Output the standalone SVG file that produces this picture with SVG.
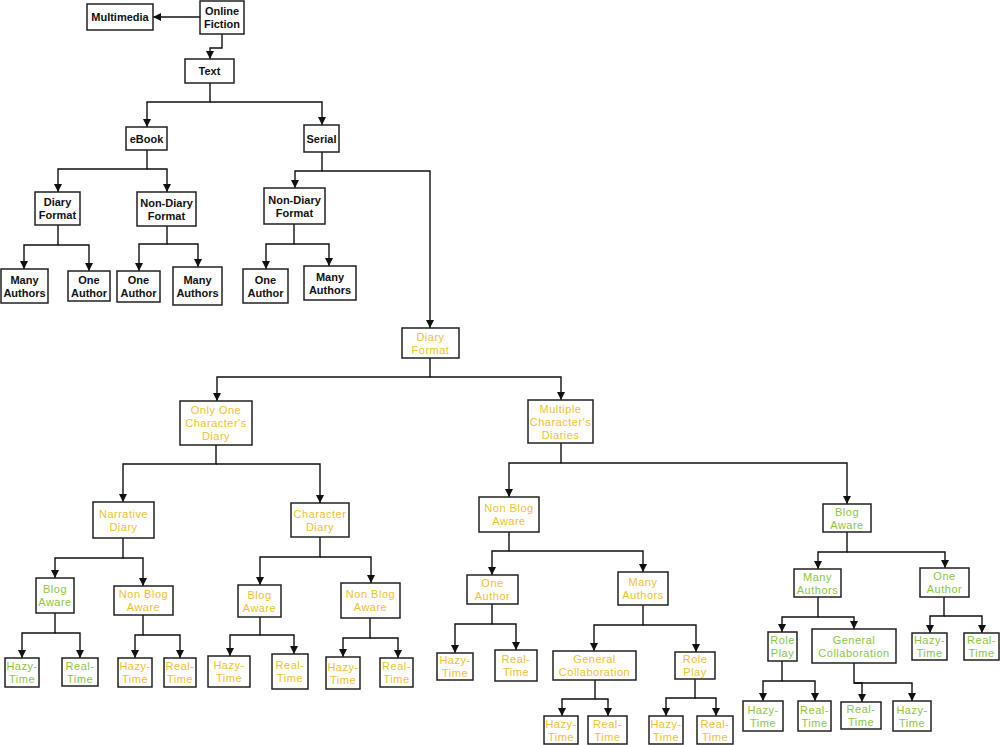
<svg xmlns="http://www.w3.org/2000/svg" width="1000" height="745" viewBox="0 0 1000 745">
<style>
.box{fill:#fff;stroke:#222;stroke-width:1.5}
.t{font-family:"Liberation Sans",Arial,sans-serif;font-size:11px;text-anchor:middle}
.k{fill:#111;font-weight:bold}
.y{fill:#f2c12e;letter-spacing:0.5px}
.g{fill:#8dc63f;letter-spacing:0.5px}
.c{fill:none;stroke:#111;stroke-width:1.4}
</style>
<defs>
<marker id="ah" viewBox="0 0 10 10" refX="10" refY="5" markerWidth="9" markerHeight="8" markerUnits="userSpaceOnUse" orient="auto">
<path d="M0,0 L10,5 L0,10 z" fill="#111"/>
</marker>
</defs>
<rect width="1000" height="745" fill="#fff"/>
<g id="connectors" class="c" marker-end="url(#ah)">
<path d="M200,17 H153" marker-end="url(#ah)"/>
<path d="M222,34 V48 H210 V59" marker-end="url(#ah)"/>
<path d="M210,83 V102 H147 V127" marker-end="url(#ah)"/>
<path d="M210,102 H322 V125" marker-end="url(#ah)"/>
<path d="M147,150 V169 H58 V192" marker-end="url(#ah)"/>
<path d="M147,169 H167 V192" marker-end="url(#ah)"/>
<path d="M58,225 V245 H24 V269" marker-end="url(#ah)"/>
<path d="M58,245 H89 V271" marker-end="url(#ah)"/>
<path d="M167,226 V244 H139 V271" marker-end="url(#ah)"/>
<path d="M167,244 H198 V267" marker-end="url(#ah)"/>
<path d="M322,152 V171 H295 V188" marker-end="url(#ah)"/>
<path d="M322,171 H430 V328" marker-end="url(#ah)"/>
<path d="M294,224 V244 H266 V269" marker-end="url(#ah)"/>
<path d="M294,244 H329 V266" marker-end="url(#ah)"/>
<path d="M430,358 V377 H217 V401" marker-end="url(#ah)"/>
<path d="M430,377 H561 V400" marker-end="url(#ah)"/>
<path d="M216,445 V464 H123 V502" marker-end="url(#ah)"/>
<path d="M216,464 H320 V503" marker-end="url(#ah)"/>
<path d="M561,443 V463 H509 V497" marker-end="url(#ah)"/>
<path d="M561,463 H847 V504" marker-end="url(#ah)"/>
<path d="M123,538 V558 H55 V578" marker-end="url(#ah)"/>
<path d="M123,558 H143 V586" marker-end="url(#ah)"/>
<path d="M55,613 V633 H22 V658" marker-end="url(#ah)"/>
<path d="M55,633 H80 V658" marker-end="url(#ah)"/>
<path d="M143,615 V635 H135 V658" marker-end="url(#ah)"/>
<path d="M143,635 H180 V658" marker-end="url(#ah)"/>
<path d="M320,537 V557 H260 V585" marker-end="url(#ah)"/>
<path d="M320,557 H371 V583" marker-end="url(#ah)"/>
<path d="M260,617 V635 H230 V656" marker-end="url(#ah)"/>
<path d="M260,635 H294 V654" marker-end="url(#ah)"/>
<path d="M370,618 V638 H343 V657" marker-end="url(#ah)"/>
<path d="M370,638 H398 V658" marker-end="url(#ah)"/>
<path d="M509,532 V551 H492 V575" marker-end="url(#ah)"/>
<path d="M509,551 H643 V572" marker-end="url(#ah)"/>
<path d="M492,604 V624 H455 V653" marker-end="url(#ah)"/>
<path d="M492,624 H516 V650" marker-end="url(#ah)"/>
<path d="M643,605 V625 H594 V651" marker-end="url(#ah)"/>
<path d="M643,625 H696 V652" marker-end="url(#ah)"/>
<path d="M595,680 V699 H562 V716" marker-end="url(#ah)"/>
<path d="M595,699 H608 V716" marker-end="url(#ah)"/>
<path d="M695,679 V698 H666 V716" marker-end="url(#ah)"/>
<path d="M695,698 H716 V716" marker-end="url(#ah)"/>
<path d="M847,532 V552 H818 V569" marker-end="url(#ah)"/>
<path d="M847,552 H945 V568" marker-end="url(#ah)"/>
<path d="M818,597 V617 H782 V632" marker-end="url(#ah)"/>
<path d="M818,617 H854 V629" marker-end="url(#ah)"/>
<path d="M944,597 V616 H930 V633" marker-end="url(#ah)"/>
<path d="M944,616 H982 V633" marker-end="url(#ah)"/>
<path d="M782,661 V681 H763 V701" marker-end="url(#ah)"/>
<path d="M782,681 H815 V701" marker-end="url(#ah)"/>
<path d="M854,663 V683 H862 V702" marker-end="url(#ah)"/>
<path d="M854,683 H912 V701" marker-end="url(#ah)"/>
</g>

<g id="n-online"><rect class="box" x="200" y="1" width="44" height="33"/><text class="t k" x="222" y="15">Online<tspan x="222" dy="13">Fiction</tspan></text></g>
<g id="n-multimedia"><rect class="box" x="87" y="4" width="66" height="26"/><text class="t k" x="120" y="21">Multimedia</text></g>
<g id="n-text"><rect class="box" x="185" y="59" width="49" height="24"/><text class="t k" x="209.5" y="75">Text</text></g>
<g id="n-ebook"><rect class="box" x="126" y="127" width="41" height="23"/><text class="t k" x="146.5" y="142.5">eBook</text></g>
<g id="n-serial"><rect class="box" x="304" y="125" width="35" height="27"/><text class="t k" x="321.5" y="142.5">Serial</text></g>
<g id="n-eb-diary"><rect class="box" x="35" y="192" width="45" height="33"/><text class="t k" x="57.5" y="206">Diary<tspan x="57.5" dy="13">Format</tspan></text></g>
<g id="n-eb-nondiary"><rect class="box" x="137" y="192" width="59" height="34"/><text class="t k" x="166.5" y="206.5">Non-Diary<tspan x="166.5" dy="13">Format</tspan></text></g>
<g id="n-eb-d-many"><rect class="box" x="1" y="269" width="47" height="34"/><text class="t k" x="24.5" y="283.5">Many<tspan x="24.5" dy="13">Authors</tspan></text></g>
<g id="n-eb-d-one"><rect class="box" x="68" y="271" width="42" height="30"/><text class="t k" x="89" y="283.5">One<tspan x="89" dy="13">Author</tspan></text></g>
<g id="n-eb-n-one"><rect class="box" x="117" y="271" width="43" height="31"/><text class="t k" x="138.5" y="284">One<tspan x="138.5" dy="13">Author</tspan></text></g>
<g id="n-eb-n-many"><rect class="box" x="173" y="267" width="49" height="38"/><text class="t k" x="197.5" y="283.5">Many<tspan x="197.5" dy="13">Authors</tspan></text></g>
<g id="n-se-nondiary"><rect class="box" x="264" y="188" width="61" height="36"/><text class="t k" x="294.5" y="203.5">Non-Diary<tspan x="294.5" dy="13">Format</tspan></text></g>
<g id="n-se-n-one"><rect class="box" x="243" y="269" width="45" height="34"/><text class="t k" x="265.5" y="283.5">One<tspan x="265.5" dy="13">Author</tspan></text></g>
<g id="n-se-n-many"><rect class="box" x="304" y="266" width="52" height="34"/><text class="t k" x="330" y="280.5">Many<tspan x="330" dy="13">Authors</tspan></text></g>
<g id="n-se-diary"><rect class="box" x="402" y="328" width="57" height="30"/><text class="t y" x="430.5" y="340.5">Diary<tspan x="430.5" dy="13">Format</tspan></text></g>
<g id="n-onlyone"><rect class="box" x="180" y="401" width="72" height="44"/><text class="t y" x="216" y="414">Only One<tspan x="216" dy="13">Character's</tspan><tspan x="216" dy="13">Diary</tspan></text></g>
<g id="n-multiple"><rect class="box" x="528" y="400" width="65" height="43"/><text class="t y" x="560.5" y="412.5">Multiple<tspan x="560.5" dy="13">Character's</tspan><tspan x="560.5" dy="13">Diaries</tspan></text></g>
<g id="n-narrative"><rect class="box" x="93" y="502" width="61" height="36"/><text class="t y" x="123.5" y="517.5">Narrative<tspan x="123.5" dy="13">Diary</tspan></text></g>
<g id="n-chardiary"><rect class="box" x="291" y="503" width="58" height="34"/><text class="t y" x="320" y="517.5">Character<tspan x="320" dy="13">Diary</tspan></text></g>
<g id="n-na-blog"><rect class="box" x="36" y="578" width="38" height="35"/><text class="t g" x="55" y="593">Blog<tspan x="55" dy="13">Aware</tspan></text></g>
<g id="n-na-nonblog"><rect class="box" x="114" y="586" width="59" height="29"/><text class="t y" x="143.5" y="598">Non Blog<tspan x="143.5" dy="13">Aware</tspan></text></g>
<g id="n-na-b-hazy"><rect class="box" x="5" y="658" width="34" height="29"/><text class="t g" x="22" y="670">Hazy-<tspan x="22" dy="13">Time</tspan></text></g>
<g id="n-na-b-real"><rect class="box" x="62" y="658" width="36" height="28"/><text class="t g" x="80" y="669.5">Real-<tspan x="80" dy="13">Time</tspan></text></g>
<g id="n-na-n-hazy"><rect class="box" x="118" y="658" width="34" height="29"/><text class="t y" x="135" y="670">Hazy-<tspan x="135" dy="13">Time</tspan></text></g>
<g id="n-na-n-real"><rect class="box" x="164" y="658" width="32" height="29"/><text class="t y" x="180" y="670">Real-<tspan x="180" dy="13">Time</tspan></text></g>
<g id="n-cd-blog"><rect class="box" x="238" y="585" width="43" height="32"/><text class="t y" x="259.5" y="598.5">Blog<tspan x="259.5" dy="13">Aware</tspan></text></g>
<g id="n-cd-nonblog"><rect class="box" x="341" y="583" width="59" height="35"/><text class="t y" x="370.5" y="598">Non Blog<tspan x="370.5" dy="13">Aware</tspan></text></g>
<g id="n-cd-b-hazy"><rect class="box" x="208" y="656" width="42" height="31"/><text class="t y" x="229" y="669">Hazy-<tspan x="229" dy="13">Time</tspan></text></g>
<g id="n-cd-b-real"><rect class="box" x="272" y="654" width="36" height="35"/><text class="t y" x="290" y="669">Real-<tspan x="290" dy="13">Time</tspan></text></g>
<g id="n-cd-n-hazy"><rect class="box" x="326" y="657" width="34" height="32"/><text class="t y" x="343" y="670.5">Hazy-<tspan x="343" dy="13">Time</tspan></text></g>
<g id="n-cd-n-real"><rect class="box" x="380" y="658" width="33" height="29"/><text class="t y" x="396.5" y="670">Real-<tspan x="396.5" dy="13">Time</tspan></text></g>
<g id="n-mc-nonblog"><rect class="box" x="479" y="497" width="60" height="35"/><text class="t y" x="509" y="512">Non Blog<tspan x="509" dy="13">Aware</tspan></text></g>
<g id="n-mc-blog"><rect class="box" x="823" y="504" width="48" height="28"/><text class="t g" x="847" y="515.5">Blog<tspan x="847" dy="13">Aware</tspan></text></g>
<g id="n-nb-one"><rect class="box" x="467" y="575" width="51" height="29"/><text class="t y" x="492.5" y="587">One<tspan x="492.5" dy="13">Author</tspan></text></g>
<g id="n-nb-many"><rect class="box" x="618" y="572" width="50" height="33"/><text class="t y" x="643" y="586">Many<tspan x="643" dy="13">Authors</tspan></text></g>
<g id="n-nb-o-hazy"><rect class="box" x="437" y="653" width="36" height="27"/><text class="t y" x="455" y="664">Hazy-<tspan x="455" dy="13">Time</tspan></text></g>
<g id="n-nb-o-real"><rect class="box" x="495" y="650" width="42" height="31"/><text class="t y" x="516" y="663">Real-<tspan x="516" dy="13">Time</tspan></text></g>
<g id="n-nb-gc"><rect class="box" x="553" y="651" width="83" height="29"/><text class="t y" x="594.5" y="663">General<tspan x="594.5" dy="13">Collaboration</tspan></text></g>
<g id="n-nb-rp"><rect class="box" x="675" y="652" width="40" height="27"/><text class="t y" x="695" y="663">Role<tspan x="695" dy="13">Play</tspan></text></g>
<g id="n-nb-gc-hazy"><rect class="box" x="544" y="716" width="34" height="28"/><text class="t y" x="561" y="727.5">Hazy-<tspan x="561" dy="13">Time</tspan></text></g>
<g id="n-nb-gc-real"><rect class="box" x="588" y="716" width="39" height="28"/><text class="t y" x="607.5" y="727.5">Real-<tspan x="607.5" dy="13">Time</tspan></text></g>
<g id="n-nb-rp-hazy"><rect class="box" x="649" y="716" width="34" height="28"/><text class="t y" x="666" y="727.5">Hazy-<tspan x="666" dy="13">Time</tspan></text></g>
<g id="n-nb-rp-real"><rect class="box" x="697" y="716" width="36" height="28"/><text class="t y" x="715" y="727.5">Real-<tspan x="715" dy="13">Time</tspan></text></g>
<g id="n-b-many"><rect class="box" x="794" y="569" width="47" height="28"/><text class="t g" x="817.5" y="580.5">Many<tspan x="817.5" dy="13">Authors</tspan></text></g>
<g id="n-b-one"><rect class="box" x="920" y="568" width="49" height="29"/><text class="t g" x="944.5" y="580">One<tspan x="944.5" dy="13">Author</tspan></text></g>
<g id="n-b-rp"><rect class="box" x="768" y="632" width="29" height="29"/><text class="t g" x="782.5" y="644">Role<tspan x="782.5" dy="13">Play</tspan></text></g>
<g id="n-b-gc"><rect class="box" x="812" y="629" width="84" height="34"/><text class="t g" x="854" y="643.5">General<tspan x="854" dy="13">Collaboration</tspan></text></g>
<g id="n-b-o-hazy"><rect class="box" x="912" y="633" width="35" height="27"/><text class="t g" x="929.5" y="644">Hazy-<tspan x="929.5" dy="13">Time</tspan></text></g>
<g id="n-b-o-real"><rect class="box" x="964" y="633" width="35" height="27"/><text class="t g" x="981.5" y="644">Real-<tspan x="981.5" dy="13">Time</tspan></text></g>
<g id="n-b-rp-hazy"><rect class="box" x="743" y="701" width="40" height="30"/><text class="t g" x="763" y="713.5">Hazy-<tspan x="763" dy="13">Time</tspan></text></g>
<g id="n-b-rp-real"><rect class="box" x="798" y="701" width="33" height="30"/><text class="t g" x="814.5" y="713.5">Real-<tspan x="814.5" dy="13">Time</tspan></text></g>
<g id="n-b-gc-real"><rect class="box" x="841" y="702" width="40" height="27"/><text class="t g" x="861" y="713">Real-<tspan x="861" dy="13">Time</tspan></text></g>
<g id="n-b-gc-hazy"><rect class="box" x="893" y="701" width="38" height="30"/><text class="t g" x="912" y="713.5">Hazy-<tspan x="912" dy="13">Time</tspan></text></g>
</svg>
